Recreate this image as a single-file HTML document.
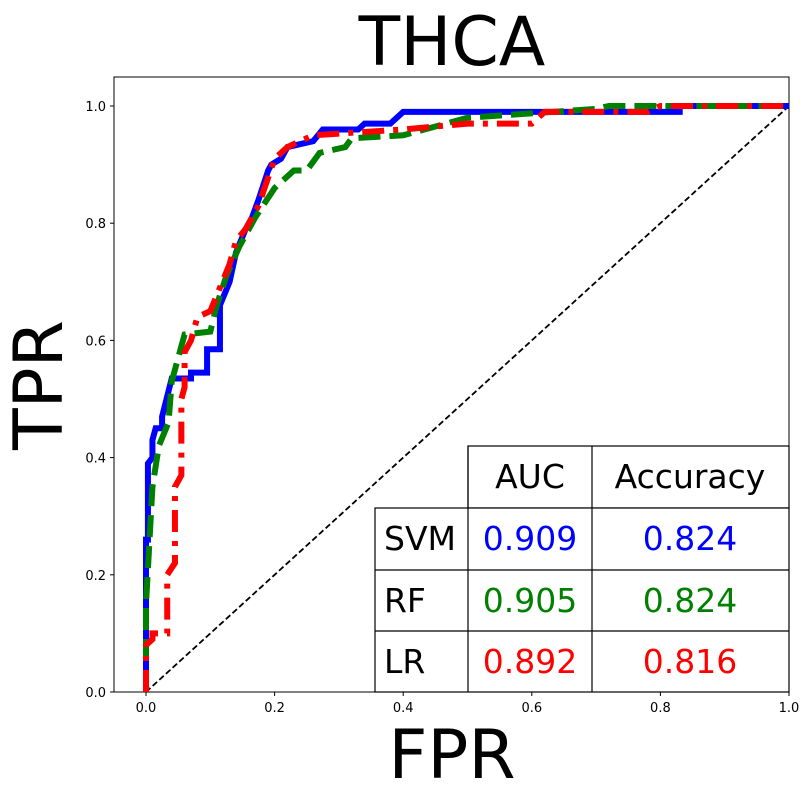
<!DOCTYPE html>
<html><head><meta charset="utf-8"><style>
body{margin:0;background:#fff;}
svg{display:block;font-family:"DejaVu Sans","Liberation Sans",sans-serif;}
</style></head><body>
<svg id="chart" width="810" height="799">
<text x="452" y="65" font-size="68" text-anchor="middle">THCA</text>
<text x="452" y="778" font-size="68" text-anchor="middle">FPR</text>
<text transform="translate(62,385) rotate(-90)" font-size="68" text-anchor="middle">TPR</text>
<g id="plot"></g>
</svg>
<script>
const xTicks=[0,0.2,0.4,0.6,0.8,1.0];
const yTicks=[0,0.2,0.4,0.6,0.8,1.0];
const svmFpr=[0,0,0.003,0.003,0.01,0.01,0.015,0.025,0.025,0.04,0.07,0.07,0.095,0.095,0.115,0.115,0.13,0.14,0.155,0.165,0.175,0.19,0.195,0.21,0.22,0.26,0.275,0.33,0.34,0.38,0.40,0.83,0.83,1];
const svmTpr=[0,0.26,0.26,0.39,0.40,0.43,0.45,0.45,0.47,0.535,0.535,0.545,0.545,0.585,0.585,0.66,0.70,0.75,0.79,0.81,0.84,0.89,0.90,0.91,0.93,0.94,0.96,0.96,0.97,0.97,0.99,0.99,1.0,1];
const rfFpr=[0,0,0.005,0.01,0.02,0.035,0.04,0.05,0.06,0.1,0.11,0.125,0.145,0.17,0.2,0.23,0.25,0.27,0.31,0.32,0.4,0.5,0.7,0.72,1];
const rfTpr=[0,0.15,0.25,0.35,0.42,0.46,0.53,0.57,0.61,0.615,0.66,0.71,0.76,0.81,0.86,0.89,0.89,0.92,0.93,0.945,0.95,0.98,0.995,1.0,1];
const lrFpr=[0,0,0.01,0.01,0.033,0.033,0.045,0.045,0.055,0.055,0.06,0.06,0.07,0.08,0.1,0.115,0.13,0.14,0.155,0.175,0.2,0.22,0.26,0.33,0.4,0.5,0.6,0.62,0.78,0.8,1];
const lrTpr=[0,0.08,0.09,0.1,0.1,0.2,0.22,0.35,0.37,0.5,0.52,0.58,0.6,0.64,0.65,0.69,0.73,0.77,0.79,0.83,0.91,0.93,0.95,0.955,0.96,0.97,0.97,0.99,0.99,1.0,1];
const models=["SVM","RF","LR"];
const aucVals=["0.909","0.905","0.892"];
const accVals=["0.824","0.824","0.816"];
const colors=["#0000ff","#008000","#ff0000"];

const NS="http://www.w3.org/2000/svg";
const g=document.getElementById('plot');
const X=v=>146+v*643, Y=v=>692-v*586;
function mk(t,a,p){const e=document.createElementNS(NS,t);for(const k in a)e.setAttribute(k,a[k]);(p||g).appendChild(e);return e;}
const frame=mk('rect',{x:114,y:77,width:675,height:615,fill:'none',stroke:'#000','stroke-width':1});


xTicks.forEach(t=>{
 const l=mk('line',{x1:X(t),x2:X(t),y1:692,y2:696,stroke:'#000'});
 
 
 const s=mk('text',{x:X(t),y:712,'font-size':13,'text-anchor':'middle'});s.textContent=t.toFixed(1);
 
 
});
yTicks.forEach(t=>{
 const l=mk('line',{x1:110,x2:114,y1:Y(t),y2:Y(t),stroke:'#000'});
 
 
 const s=mk('text',{x:106,y:Y(t)+5,'font-size':13,'text-anchor':'end'});s.textContent=t.toFixed(1);
 
 
});
const diag=mk('line',{x1:X(0),y1:Y(0),x2:X(1),y2:Y(1),stroke:'#000','stroke-width':1.8,'stroke-dasharray':'6,3'});


function curve(fx,ty,col,dash,name){
 const p=mk('polyline',{points:fx.map((v,i)=>X(v)+','+Y(ty[i])).join(' '),fill:'none',stroke:col,'stroke-width':6,'stroke-dasharray':dash});
 
 
}
curve(svmFpr,svmTpr,colors[0],'none','svm-roc-curve');
curve(rfFpr,rfTpr,colors[1],'22,9','rf-roc-curve');
curve(lrFpr,lrTpr,colors[2],'22,9,5,9','lr-roc-curve');
const ry=[446,508,570,631,692];
const tb=mk('g',{});


mk('rect',{x:468,y:446,width:321,height:62,fill:'#fff',stroke:'#000','stroke-width':1.2},tb);
mk('rect',{x:375,y:508,width:414,height:184,fill:'#fff',stroke:'#000','stroke-width':1.2},tb);
[570,631].forEach(y=>mk('line',{x1:375,x2:789,y1:y,y2:y,stroke:'#000','stroke-width':1.2},tb));
[468,592].forEach(x=>mk('line',{x1:x,x2:x,y1:446,y2:692,stroke:'#000','stroke-width':1.2},tb));
const h1=mk('text',{x:530,y:488,'font-size':33,'text-anchor':'middle'},tb);h1.textContent='AUC';


const h2=mk('text',{x:690,y:488,'font-size':33,'text-anchor':'middle'},tb);h2.textContent='Accuracy';


models.forEach((m,i)=>{
 const yb=ry[i+1]+42;
 const a=mk('text',{x:384,y:yb,'font-size':33},tb);a.textContent=m;
 
 
 const b=mk('text',{x:530,y:yb,'font-size':33,'text-anchor':'middle',fill:colors[i]},tb);b.textContent=aucVals[i];
 
 
 const c=mk('text',{x:690,y:yb,'font-size':33,'text-anchor':'middle',fill:colors[i]},tb);c.textContent=accVals[i];
 
 
});
</script>
</body></html>
